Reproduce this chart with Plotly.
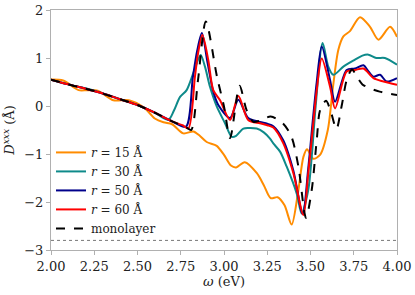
import plotly.graph_objects as go

# ---- data ----
x_mono = [2.0, 2.1, 2.2, 2.3, 2.4, 2.5, 2.6, 2.7, 2.78, 2.81, 2.85, 2.895, 2.96, 3.0, 3.035, 3.09,
          3.13, 3.17, 3.21, 3.27, 3.34, 3.39, 3.43, 3.474, 3.507, 3.536, 3.556, 3.59, 3.62, 3.65,
          3.68, 3.71, 3.74, 3.77, 3.8, 3.85, 3.9, 3.95, 4.0]
y_mono = [0.55, 0.45, 0.36, 0.26, 0.14, 0.02, -0.14, -0.32, -0.44, -0.5, 0.55, 1.76, 0.6, -0.01, -0.67, 0.42,
          -0.08, -0.33, -0.3, -0.22, -0.36, -0.64, -1.26, -2.33, -1.75, -0.71, -0.08, 0.11, -0.15, -0.48,
          0.0, 0.55, 0.76, 0.6, 0.45, 0.36, 0.3, 0.26, 0.23]

x_r60 = [2.0, 2.1, 2.2, 2.3, 2.4, 2.5, 2.6, 2.7, 2.76, 2.794, 2.832, 2.85, 2.875, 2.909, 2.938, 2.977,
         3.035, 3.083, 3.14, 3.208, 3.25, 3.285, 3.343, 3.401, 3.459, 3.487, 3.516, 3.536, 3.565,
         3.613, 3.642, 3.709, 3.757, 3.806, 3.864, 3.922, 4.0]
y_r60 = [0.55, 0.45, 0.36, 0.26, 0.14, 0.02, -0.14, -0.32, -0.4, -0.47, 0.61, 1.1, 1.48, 0.96, 0.33, 0.12,
         -0.29, 0.21, -0.29, -0.36, -0.4, -0.45, -0.78, -1.4, -2.27, -1.4, -0.36, 0.33, 0.99,
         0.4, -0.05, 0.72, 0.75, 0.78, 0.58, 0.51, 0.44]

x_r50 = [2.0, 2.1, 2.2, 2.3, 2.4, 2.5, 2.6, 2.7, 2.78, 2.82, 2.845, 2.872, 2.905, 2.938, 2.967,
         3.035, 3.083, 3.14, 3.208, 3.25, 3.285, 3.343, 3.401, 3.455, 3.487, 3.516, 3.536, 3.565,
         3.613, 3.642, 3.709, 3.757, 3.806, 3.835, 3.864, 3.902, 3.94, 4.0]
y_r50 = [0.55, 0.45, 0.36, 0.26, 0.14, 0.02, -0.14, -0.32, -0.43, 0.6, 1.15, 1.52, 0.9, 0.3, 0.02,
         -0.25, 0.13, -0.25, -0.33, -0.37, -0.42, -0.72, -1.35, -2.25, -1.3, -0.2, 0.5, 1.24,
         0.54, 0.09, 0.75, 0.78, 0.85, 0.72, 0.61, 0.65, 0.51, 0.58]

x_r30 = [2.0, 2.1, 2.2, 2.3, 2.4, 2.5, 2.6, 2.678, 2.71, 2.746, 2.784, 2.832, 2.865, 2.89, 2.919,
         2.958, 3.006, 3.044, 3.07, 3.112, 3.15, 3.189, 3.23, 3.266, 3.285, 3.324, 3.362, 3.42,
         3.449, 3.487, 3.507, 3.53, 3.57, 3.603, 3.632, 3.69, 3.75, 3.8, 3.835, 3.88, 3.93, 4.0]
y_r30 = [0.55, 0.45, 0.37, 0.26, 0.14, 0.02, -0.14, -0.29, -0.1, 0.19, 0.33, 0.78, 1.06, 0.82, 0.4,
         -0.01, -0.36, -0.64, -0.62, -0.47, -0.46, -0.47, -0.55, -0.68, -0.78, -0.95, -1.26, -1.82,
         -2.24, -1.75, -1.06, 0.0, 1.31, 0.82, 0.65, 0.82, 0.95, 1.05, 1.07, 1.0, 1.0, 0.86]

x_r15 = [2.0, 2.07, 2.16, 2.21, 2.27, 2.36, 2.45, 2.54, 2.6, 2.65, 2.7, 2.765, 2.823, 2.86, 2.9,
         2.958, 3.0, 3.04, 3.07, 3.12, 3.19, 3.23, 3.27, 3.31, 3.35, 3.391, 3.43, 3.459, 3.48,
         3.516, 3.555, 3.6, 3.63, 3.661, 3.69, 3.728, 3.786, 3.844, 3.893, 3.96, 4.0]
y_r15 = [0.55, 0.53, 0.33, 0.33, 0.32, 0.12, 0.12, -0.04, -0.26, -0.34, -0.38, -0.57, -0.53, -0.62, -0.75,
         -0.83, -1.02, -1.24, -1.28, -1.17, -1.4, -1.65, -1.92, -1.9, -2.07, -2.47, -1.75, -1.06, -0.9,
         -1.1, -1.02, -0.5, 0.4, 1.17, 1.45, 1.56, 1.85, 1.65, 1.38, 1.65, 1.44]

ref_level = -2.8

series = [
    ("<i>r</i> = 15 Å", x_r15, y_r15, "#ff8c00", "solid"),
    ("<i>r</i> = 30 Å", x_r30, y_r30, "#0e8a8a", "solid"),
    ("<i>r</i> = 50 Å", x_r50, y_r50, "#00008b", "solid"),
    ("<i>r</i> = 60 Å", x_r60, y_r60, "#ff0000", "solid"),
    ("monolayer", x_mono, y_mono, "#000000", "dash"),
]

fig = go.Figure()
for name, xs, ys, col, dash in series:
    fig.add_trace(go.Scatter(x=xs, y=ys, mode="lines", name=name,
                             line=dict(color=col, width=2, dash=dash, shape="spline", smoothing=0.8)))

fig.add_hline(y=ref_level, line=dict(color="#777777", width=1, dash="dot"))

font = "DejaVu Serif"
fig.update_layout(
    width=415, height=295,
    margin=dict(l=51, r=18, t=10, b=45, autoexpand=False),
    paper_bgcolor="white", plot_bgcolor="white",
    font=dict(family=font, size=13, color="#222222"),
    showlegend=True,
    legend=dict(x=0.0, y=0.467, xanchor="left", yanchor="top", bgcolor="rgba(0,0,0,0)",
                font=dict(family=font, size=12), tracegroupgap=0, itemwidth=30),
    xaxis=dict(range=[2, 4], tickvals=[2, 2.25, 2.5, 2.75, 3, 3.25, 3.5, 3.75, 4],
               ticktext=["2.00", "2.25", "2.50", "2.75", "3.00", "3.25", "3.50", "3.75", "4.00"],
               automargin=False, ticklabeloverflow="allow",
               showgrid=False, zeroline=False, showline=True, mirror=True, linecolor="#b0b0b0",
               ticks="outside", ticklen=4, tickcolor="#b0b0b0",
               tickfont=dict(family=font, size=13),
               title=dict(text="<i>ω</i> (eV)", standoff=4, font=dict(family=font, size=13))),
    yaxis=dict(range=[-3, 2], tickvals=[-3, -2, -1, 0, 1, 2],
               ticktext=["−3", "−2", "−1", "0", "1", "2"],
               automargin=False, ticklabeloverflow="allow",
               showgrid=False, zeroline=False, showline=True, mirror=True, linecolor="#b0b0b0",
               ticks="outside", ticklen=4, tickcolor="#b0b0b0",
               tickfont=dict(family=font, size=13),
               title=dict(text="<i>D</i><sup><i>xxx</i></sup> (Å)", standoff=6, font=dict(family=font, size=13))),
)

fig.write_html("out.html", config={"displayModeBar": False},
               post_script="document.body.style.margin='0';")
